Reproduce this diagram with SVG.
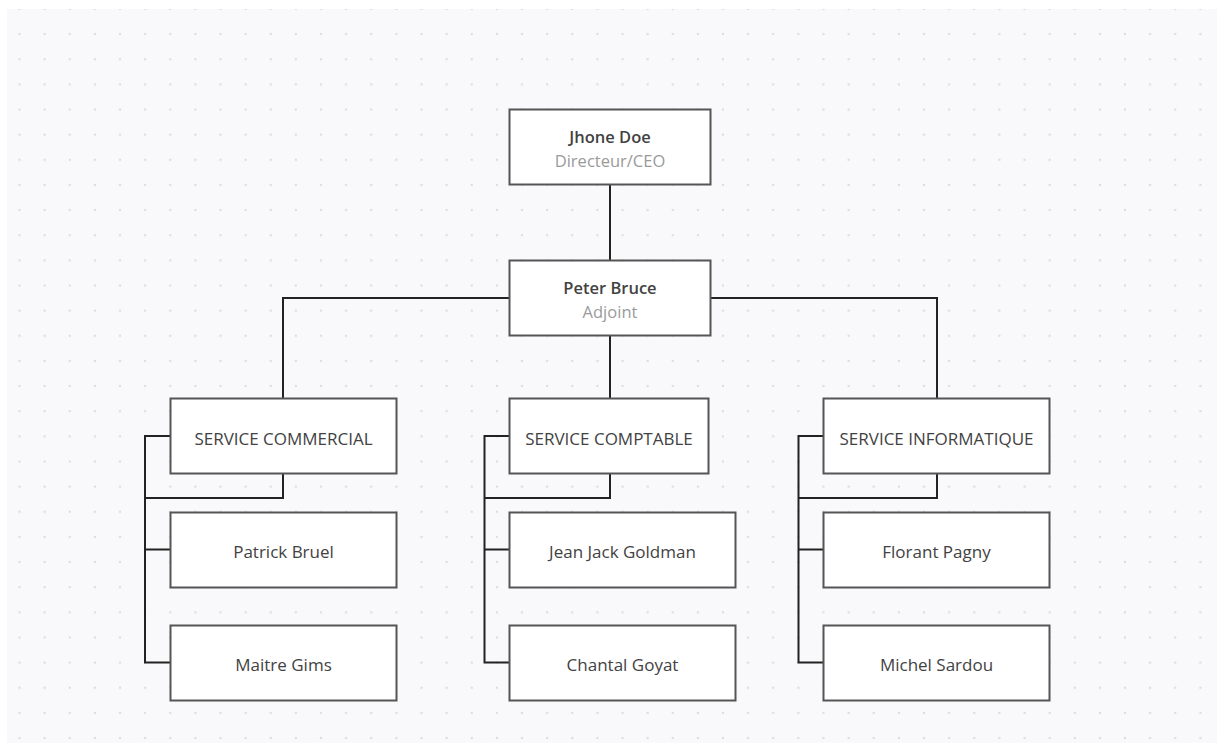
<svg xmlns="http://www.w3.org/2000/svg" width="1223" height="743" viewBox="0 0 1223 743">
  <defs>
    <pattern id="dots" patternUnits="userSpaceOnUse" x="7" y="-3.6" width="25.125" height="25.14">
      <circle cx="12.5" cy="12.57" r="1.2" fill="#dcdce2"/>
    </pattern>
    <style>
      .node { fill: #ffffff; stroke: #555555; stroke-width: 2; }
      .conn { fill: none; stroke: #222222; stroke-width: 2; }
      .t { font-family: "Open Sans", "Noto Sans", sans-serif; fill: #424242; text-anchor: middle; }
      .name { font-size: 16.5px; font-weight: 600; }
      .role { font-size: 16.5px; fill: #9a9a9a; }
      .lbl { font-size: 17px; font-weight: 500; }
    </style>
  </defs>
  <rect x="0" y="0" width="1223" height="743" fill="#ffffff"/>
  <rect x="7" y="9" width="1210" height="734" fill="#f9f9fb"/>
  <rect x="7" y="9" width="1210" height="734" fill="url(#dots)"/>

  <g id="connectors">
    <path class="conn" d="M610,184 V260"/>
    <path class="conn" d="M509,298 H283 V398"/>
    <path class="conn" d="M710,298 H937 V398"/>
    <path class="conn" d="M610,336 V398"/>
    <path class="conn" d="M283,473 V498 H145"/>
    <path class="conn" d="M170,436 H145 V662.5 H170"/>
    <path class="conn" d="M145,549.5 H170"/>
    <path class="conn" d="M610,473 V498 H484.5"/>
    <path class="conn" d="M509,436 H484.5 V662.5 H509"/>
    <path class="conn" d="M484.5,549.5 H509"/>
    <path class="conn" d="M937,473 V498 H798.5"/>
    <path class="conn" d="M823,436 H798.5 V662.5 H823"/>
    <path class="conn" d="M798.5,549.5 H823"/>
  </g>

  <g id="node-jhone">
    <rect class="node" x="509.5" y="109.5" width="201" height="75"/>
    <text class="t name" x="610" y="142.5">Jhone Doe</text>
    <text class="t role" x="610" y="166.5">Directeur/CEO</text>
  </g>
  <g id="node-peter">
    <rect class="node" x="509.5" y="260.5" width="201" height="75"/>
    <text class="t name" x="610" y="293.5">Peter Bruce</text>
    <text class="t role" x="610" y="317.5">Adjoint</text>
  </g>

  <g id="node-commercial">
    <rect class="node" x="170.5" y="398.5" width="226" height="75"/>
    <text class="t lbl" x="283.5" y="444.5">SERVICE COMMERCIAL</text>
  </g>
  <g id="node-comptable">
    <rect class="node" x="509.5" y="398.5" width="199" height="75"/>
    <text class="t lbl" x="609" y="444.5">SERVICE COMPTABLE</text>
  </g>
  <g id="node-informatique">
    <rect class="node" x="823.5" y="398.5" width="226" height="75"/>
    <text class="t lbl" x="936.5" y="444.5">SERVICE INFORMATIQUE</text>
  </g>

  <g id="node-patrick">
    <rect class="node" x="170.5" y="512.5" width="226" height="75"/>
    <text class="t lbl" x="283.5" y="557.5">Patrick Bruel</text>
  </g>
  <g id="node-maitre">
    <rect class="node" x="170.5" y="625.5" width="226" height="75"/>
    <text class="t lbl" x="283.5" y="670.5">Maitre Gims</text>
  </g>
  <g id="node-jean">
    <rect class="node" x="509.5" y="512.5" width="226" height="75"/>
    <text class="t lbl" x="622.5" y="557.5">Jean Jack Goldman</text>
  </g>
  <g id="node-chantal">
    <rect class="node" x="509.5" y="625.5" width="226" height="75"/>
    <text class="t lbl" x="622.5" y="670.5">Chantal Goyat</text>
  </g>
  <g id="node-florant">
    <rect class="node" x="823.5" y="512.5" width="226" height="75"/>
    <text class="t lbl" x="936.5" y="557.5">Florant Pagny</text>
  </g>
  <g id="node-michel">
    <rect class="node" x="823.5" y="625.5" width="226" height="75"/>
    <text class="t lbl" x="936.5" y="670.5">Michel Sardou</text>
  </g>
</svg>
